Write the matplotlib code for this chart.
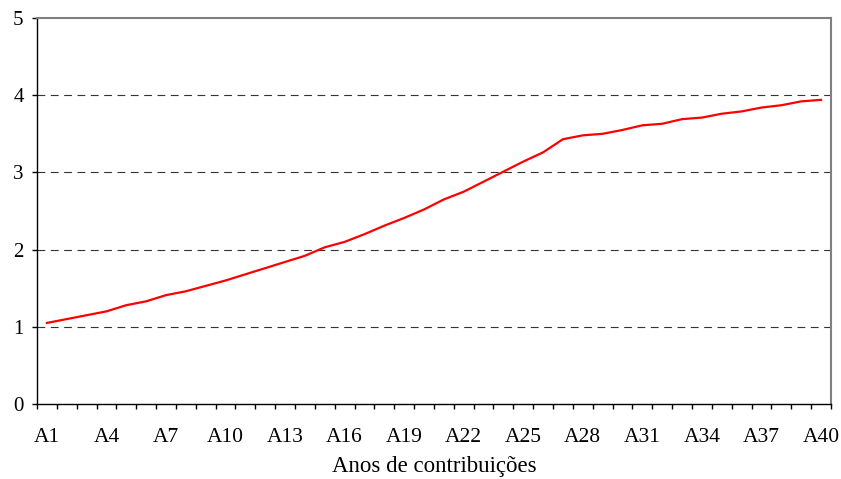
import numpy as np
import matplotlib.pyplot as plt
from matplotlib.ticker import FixedLocator, NullFormatter

plt.rcParams['font.family'] = ['Liberation Serif', 'DejaVu Serif']

# valores por ano de contribuição (A1..A40)
anos = ['A%d' % i for i in range(1, 41)]
valores = [1.05, 1.10, 1.15, 1.20, 1.28, 1.33, 1.41, 1.46, 1.53, 1.60,
           1.68, 1.76, 1.84, 1.92, 2.03, 2.10, 2.20, 2.31, 2.41, 2.52,
           2.65, 2.75, 2.88, 3.01, 3.14, 3.26, 3.43, 3.48, 3.50, 3.55,
           3.61, 3.63, 3.69, 3.71, 3.76, 3.79, 3.84, 3.87, 3.92, 3.94]
y_ticks = [0, 1, 2, 3, 4, 5]

fig = plt.figure(figsize=(8.41, 4.79), dpi=100)
ax = fig.add_axes([0.044, 0.1566, 0.944, 0.8058])

x = np.arange(len(anos))
ax.plot(x, valores, color='#ff0000', lw=1.6, zorder=3)

ax.set_xlim(-0.5, len(anos) - 0.5)
ax.set_ylim(0, 5)

# grelha tracejada
for yv in y_ticks[1:-1]:
    ax.axhline(yv, color='#333333', lw=0.8, ls=(0, (7, 5)), zorder=1)

for s in ['left', 'bottom']:
    ax.spines[s].set_color('black')
    ax.spines[s].set_linewidth(1.0)
for s in ['top', 'right']:
    ax.spines[s].set_color('#808080')
    ax.spines[s].set_linewidth(1.5)

ax.set_yticks(y_ticks)
ax.set_yticklabels([str(v) for v in y_ticks], fontsize=15)
ax.tick_params(axis='y', direction='out', length=3.6, width=1, pad=6)

# traços nos limites das categorias, rótulos a cada 3 anos
ax.xaxis.set_major_locator(FixedLocator(np.arange(-0.5, len(anos), 1.0)))
ax.xaxis.set_major_formatter(NullFormatter())
ax.xaxis.set_minor_locator(FixedLocator(x[::3]))
ax.set_xticklabels(anos[::3], minor=True, fontsize=15.5)
ax.tick_params(axis='x', which='major', direction='out', length=3.6, width=1)
ax.tick_params(axis='x', which='minor', length=0, pad=17)

ax.set_xlabel('Anos de contribuições', fontsize=16.5, labelpad=7)

fig.savefig('out.png', dpi=100)
